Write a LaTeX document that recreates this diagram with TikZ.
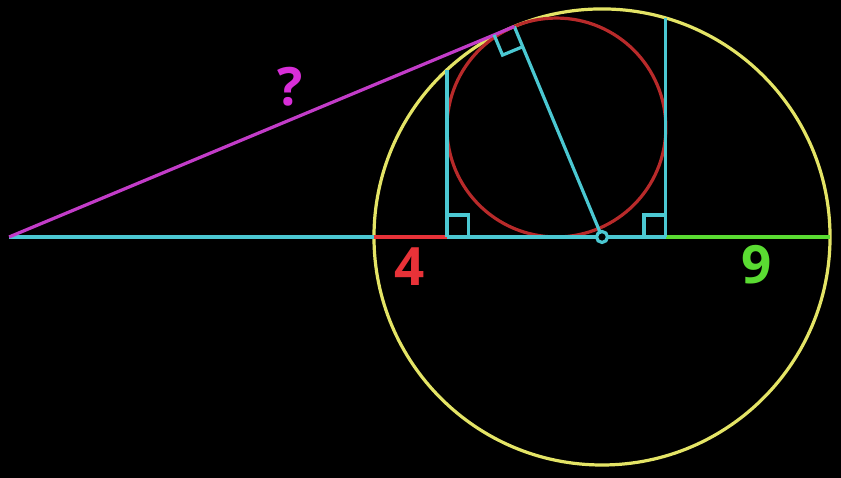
\documentclass[tikz,border=0pt]{standalone}
\usepackage{fontspec}
\setmainfont{Open Sans}
\definecolor{cyanc}{HTML}{4BC8D2}
\definecolor{yellowc}{HTML}{E4E466}
\definecolor{redc}{HTML}{B82A2A}
\definecolor{magc}{HTML}{C23CC8}
\definecolor{magt}{HTML}{D82ED8}
\definecolor{redl}{HTML}{E83238}
\definecolor{greenc}{HTML}{5ADC32}
\begin{document}
\begin{tikzpicture}[x=0.2cm,y=0.2cm,
  ln/.style={line width=1pt},
  lbl/.style={font=\bfseries\fontsize{16.5}{18}\selectfont},
  rmark/.style={ln,cyanc}]
\fill[black] (-33.0,-13.21) rectangle (13.10,12.99);
\useasboundingbox (-33.0,-13.21) rectangle (13.10,12.99);
\coordinate (O) at (0,0);
\coordinate (A) at (-32.5,0);
\coordinate (C) at (-2.5,6);
\coordinate (T) at (-4.808,11.538);
\coordinate (L) at (-12.5,0);
\coordinate (Rt) at (12.5,0);
\coordinate (S1) at (-8.5,0);
\coordinate (S2) at (3.5,0);
\coordinate (S1t) at (-8.5,9.165);
\coordinate (S2t) at (3.5,12);
% circles
\draw[ln,yellowc] (O) circle[radius=12.5];
\draw[ln,redc] (C) circle[radius=6];
% base line
\draw[ln,cyanc] (A) -- (Rt);
\draw[ln,redl] (L) -- (S1);
\draw[ln,greenc] (S2) -- (Rt);
% square sides
\draw[ln,cyanc] (S1) -- (S1t);
\draw[ln,cyanc] (S2) -- (S2t);
% radius to tangent point
\draw[ln,cyanc] (O) -- (T);
% tangent
\draw[ln,magc] (A) -- (T);
% right angle marks
\draw[rmark] (-5.916,11.077) -- (-5.454,9.969) -- (-4.346,10.430);
\draw[rmark] (-8.5,1.2) -- (-7.3,1.2) -- (-7.3,0);
\draw[rmark] (3.5,1.2) -- (2.3,1.2) -- (2.3,0);
% centre point
\filldraw[ln,cyanc,fill=black] (O) circle[radius=0.3];
% labels
\node[lbl,text=redl] (l4) at (-10.53,-1.64) {4};
\node[lbl,text=greenc] (l9) at (8.5,-1.54) {9};
\node[lbl,text=magt] (lq) at (-17.1,8.22) {?};
\end{tikzpicture}
\end{document}
